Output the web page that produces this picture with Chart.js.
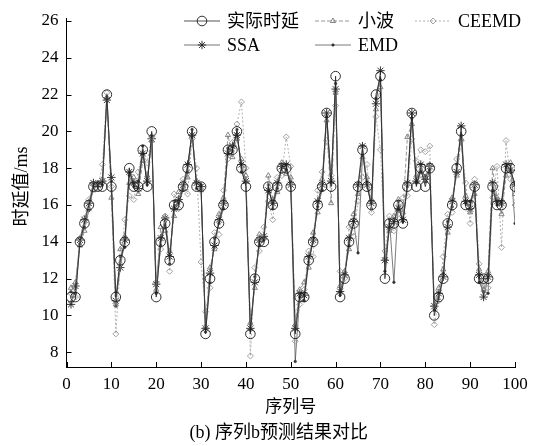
<!DOCTYPE html>
<html>
<head>
<meta charset="utf-8">
<script src="https://cdn.jsdelivr.net/npm/chart.js@4.4.1/dist/chart.umd.min.js"></script>
<style>
  html, body { margin: 0; padding: 0; background: #fff; }
  canvas { display: block; }
</style>
</head>
<body>
<canvas id="chart" width="537" height="446"></canvas>
<script>
// sequence numbers 1..100
const seqNo = Array.from({length: 100}, (_, i) => i + 1);

const actual = [11, 11, 14, 15, 16, 17, 17, 17, 22, 17,
  11, 13, 14, 18, 17, 17, 19, 17, 20, 11,
  14, 15, 13, 16, 16, 17, 18, 20, 17, 17,
  9, 12, 14, 15, 16, 19, 19, 20, 18, 17,
  9, 12, 14, 14, 17, 16, 17, 18, 18, 17,
  9, 11, 11, 13, 14, 16, 17, 21, 17, 23,
  11, 12, 14, 15, 17, 19, 17, 16, 22, 23,
  12, 15, 15, 16, 15, 17, 21, 17, 18, 17,
  18, 10, 11, 12, 15, 16, 18, 20, 16, 16,
  17, 12, 12, 12, 17, 16, 16, 18, 18, 17];

const wavelet = [11.5, 11.8, 13.8, 14.6, 15.8, 16.8, 17.2, 17.4, 21.8, 16.4,
  10.6, 13.6, 14.3, 17.2, 17.5, 16.6, 18.4, 17.6, 19.5, 11.4,
  14.8, 14.6, 13.5, 15.4, 16.7, 16.9, 17.5, 19.8, 17.3, 16.8,
  9.4, 12.6, 13.6, 15.5, 16.4, 19.8, 18.6, 19.6, 18.5, 17.6,
  9.6, 11.5, 14.4, 14.2, 17.6, 16.3, 16.7, 18.3, 17.7, 17.5,
  9.5, 11.4, 11.8, 12.6, 14.5, 15.6, 17.4, 20.6, 16.1, 22.1,
  11.6, 12.4, 13.6, 15.5, 16.6, 18.6, 17.5, 16.3, 21.2, 22.4,
  13.1, 14.6, 15.4, 16.3, 15.6, 19.7, 20.4, 17.6, 17.6, 17.5,
  18.2, 10.6, 11.5, 12.5, 14.5, 16.4, 17.6, 19.6, 16.5, 15.6,
  16.6, 12.5, 11.4, 12.4, 18.0, 16.4, 15.5, 17.6, 18.3, 16.6];

const ceemd = [11.2, 11.0, 14.2, 15.3, 16.3, 17.1, 16.9, 18.2, 22.1, 17.0,
  9.0, 12.8, 15.2, 16.5, 16.3, 17.8, 18.8, 18.3, 19.7, 11.8,
  13.6, 15.4, 12.4, 16.6, 15.8, 17.4, 16.6, 19.6, 18.0, 12.9,
  10.2, 11.5, 14.5, 14.4, 16.8, 18.5, 19.4, 20.4, 21.6, 18.0,
  7.8, 12.6, 13.5, 14.8, 16.2, 15.2, 17.5, 17.6, 19.7, 18.1,
  8.6, 10.6, 11.4, 13.5, 13.2, 16.8, 17.8, 19.5, 17.6, 21.4,
  12.4, 12.0, 14.8, 14.3, 16.2, 17.5, 18.2, 15.6, 20.8, 19.0,
  13.5, 15.4, 14.6, 15.5, 16.4, 16.5, 19.6, 18.4, 19.0, 18.9,
  19.2, 9.5, 10.8, 13.2, 15.5, 15.6, 18.5, 19.5, 17.2, 15.0,
  17.4, 12.8, 11.6, 11.5, 16.4, 18.1, 13.7, 19.5, 17.4, 16.0];

const ssa = [10.6, 11.6, 14.1, 15.2, 16.1, 17.2, 17.1, 17.3, 21.7, 17.5,
  10.8, 12.6, 14.1, 17.8, 17.2, 16.9, 18.8, 17.3, 19.6, 11.7,
  14.2, 15.3, 13.2, 15.8, 16.3, 17.1, 18.2, 19.8, 17.2, 17.0,
  9.3, 12.3, 13.8, 15.2, 16.1, 18.8, 19.2, 19.8, 18.2, 17.3,
  9.3, 11.8, 14.1, 14.3, 16.8, 16.1, 17.2, 18.1, 18.2, 17.1,
  9.3, 11.2, 11.1, 13.2, 14.1, 16.2, 17.1, 21.0, 17.3, 22.3,
  11.3, 12.2, 14.2, 15.1, 17.1, 19.2, 17.1, 16.1, 21.5, 23.3,
  13.0, 14.8, 15.1, 15.8, 15.2, 17.2, 21.0, 17.3, 18.2, 17.4,
  18.1, 10.5, 11.2, 12.1, 14.8, 16.2, 17.8, 20.3, 16.2, 15.8,
  17.1, 12.2, 11.0, 12.1, 17.2, 16.2, 16.1, 18.2, 17.9, 17.1];

const emd = [11.3, 11.2, 13.9, 14.8, 15.7, 17.0, 17.2, 17.1, 21.9, 17.3,
  10.5, 13.2, 13.7, 17.6, 17.0, 17.3, 19.2, 17.1, 19.8, 11.2,
  13.8, 15.1, 12.8, 16.2, 16.1, 16.8, 17.8, 20.1, 16.9, 17.1,
  9.1, 11.8, 14.2, 15.0, 15.8, 19.1, 18.9, 20.1, 17.8, 17.2,
  9.2, 12.1, 13.8, 14.1, 17.1, 15.8, 16.9, 18.2, 17.9, 17.3,
  7.5, 11.0, 10.8, 12.9, 14.2, 15.9, 16.8, 20.8, 17.2, 22.6,
  11.1, 12.3, 13.8, 15.1, 13.4, 18.7, 17.3, 15.8, 21.8, 22.8,
  12.4, 15.2, 11.8, 16.2, 15.1, 17.0, 20.7, 17.2, 17.8, 17.6,
  17.9, 10.3, 10.9, 12.3, 15.1, 15.9, 18.2, 19.8, 16.1, 16.2,
  16.9, 11.8, 11.3, 11.2, 16.8, 16.0, 16.2, 18.1, 18.2, 15.0];

const seriesNames = ['实际时延', '小波', 'CEEMD', 'SSA', 'EMD'];
const xTicks = [0, 10, 20, 30, 40, 50, 60, 70, 80, 90, 100];
const yTicks = [8, 10, 12, 14, 16, 18, 20, 22, 24, 26];

const SERIF = "'Liberation Serif', 'Noto Sans CJK SC', serif";

function pts(vals) {
  return seqNo.map((x, i) => ({x: x, y: vals[i]}));
}

const datasets = [
  {label: seriesNames[0], data: pts(actual), borderColor: '#262626', borderWidth: 0.8,
   pointStyle: 'circle', pointRadius: 4.8, pointBorderColor: '#1a1a1a', pointBorderWidth: 0.9,
   pointBackgroundColor: 'rgba(0,0,0,0)'},
  {label: seriesNames[1], data: pts(wavelet), borderColor: '#8a8a8a', borderWidth: 0.9, borderDash: [4, 2],
   pointStyle: 'triangle', pointRadius: 3, pointBorderColor: '#777', pointBorderWidth: 0.9,
   pointBackgroundColor: 'rgba(0,0,0,0)'},
  {label: seriesNames[2], data: pts(ceemd), borderColor: '#a8a8a8', borderWidth: 0.9, borderDash: [2, 2],
   pointStyle: 'rectRot', pointRadius: 3, pointBorderColor: '#999', pointBorderWidth: 0.9,
   pointBackgroundColor: 'rgba(0,0,0,0)'},
  {label: seriesNames[3], data: pts(ssa), borderColor: '#3a3a3a', borderWidth: 0.7,
   pointStyle: 'star', pointRadius: 4.2, pointBorderColor: '#222', pointBorderWidth: 0.9,
   pointBackgroundColor: 'rgba(0,0,0,0)'},
  {label: seriesNames[4], data: pts(emd), borderColor: '#444', borderWidth: 0.7,
   pointStyle: 'circle', pointRadius: 1.3, pointBorderColor: '#333', pointBorderWidth: 0.5,
   pointBackgroundColor: '#333'}
];

// inward ticks, legend block and the text round the plot
const decor = {
  id: 'decor',
  afterDraw(chart) {
    const ctx = chart.ctx;
    const ca = chart.chartArea;
    const xs = chart.scales.x, ys = chart.scales.y;
    ctx.save();
    ctx.strokeStyle = '#000';
    ctx.lineWidth = 1;
    ctx.beginPath();
    yTicks.forEach(v => {
      const y = Math.round(ys.getPixelForValue(v)) + 0.5;
      ctx.moveTo(ca.left, y); ctx.lineTo(ca.left + 5, y);
    });
    xTicks.forEach(v => {
      const x = Math.round(xs.getPixelForValue(v)) + 0.5;
      ctx.moveTo(x, ca.bottom); ctx.lineTo(x, ca.bottom - 5);
    });
    ctx.stroke();

    // legend, 3 + 2 entries
    const cols = [184, 315, 415];
    const rows = [21, 45];
    const place = [[0, 0], [0, 1], [0, 2], [1, 0], [1, 1]];
    ctx.font = '18px ' + SERIF;
    ctx.textBaseline = 'middle';
    ctx.textAlign = 'left';
    chart.data.datasets.forEach((ds, i) => {
      const x0 = cols[place[i][1]], y = rows[place[i][0]];
      ctx.save();
      ctx.strokeStyle = ds.borderColor;
      ctx.lineWidth = ds.borderWidth;
      ctx.setLineDash(ds.borderDash || []);
      ctx.beginPath();
      ctx.moveTo(x0, y); ctx.lineTo(x0 + 36, y);
      ctx.stroke();
      ctx.setLineDash([]);
      ctx.strokeStyle = ds.pointBorderColor;
      ctx.fillStyle = ds.pointBackgroundColor;
      ctx.lineWidth = ds.pointBorderWidth;
      Chart.helpers.drawPoint(ctx, {pointStyle: ds.pointStyle, radius: ds.pointRadius,
        rotation: 0, borderWidth: ds.pointBorderWidth}, x0 + 18, y);
      ctx.restore();
      ctx.fillStyle = '#000';
      ctx.fillText(ds.label, x0 + 43, y + 1);
    });

    // axis titles and caption
    ctx.fillStyle = '#000';
    ctx.textAlign = 'center';
    ctx.font = '17px ' + SERIF;
    ctx.fillText('序列号', (ca.left + ca.right) / 2, 408);
    ctx.font = '18px ' + SERIF;
    ctx.fillText('(b) 序列b预测结果对比', (ca.left + ca.right) / 2 - 12, 433);
    ctx.save();
    ctx.translate(22, (ca.top + ca.bottom) / 2 - 6);
    ctx.rotate(-Math.PI / 2);
    ctx.font = '18px ' + SERIF;
    ctx.fillText('时延值/ms', 0, 0);
    ctx.restore();
    ctx.restore();
  }
};

new Chart(document.getElementById('chart'), {
  type: 'line',
  data: {datasets: datasets},
  options: {
    responsive: false,
    animation: false,
    devicePixelRatio: 1,
    layout: {padding: {left: 0, right: 22, top: 12, bottom: 0}},
    plugins: {legend: {display: false}, title: {display: false}, tooltip: {enabled: false}},
    elements: {line: {tension: 0, fill: false}},
    scales: {
      x: {
        type: 'linear', min: 0, max: 100,
        afterBuildTicks: s => { s.ticks = xTicks.map(v => ({value: v})); },
        afterFit: s => { s.height = 79; },
        grid: {display: false, drawTicks: false},
        border: {display: true, color: '#000', width: 1},
        ticks: {color: '#000', padding: 7, maxRotation: 0, font: {family: SERIF, size: 17}}
      },
      y: {
        min: 7.2, max: 26.15,
        afterBuildTicks: s => { s.ticks = yTicks.map(v => ({value: v})); },
        afterFit: s => { s.width = 66.5; },
        grid: {display: false, drawTicks: false},
        border: {display: true, color: '#000', width: 1},
        ticks: {color: '#000', padding: 8, font: {family: SERIF, size: 17}}
      }
    }
  },
  plugins: [decor]
});
</script>
</body>
</html>
